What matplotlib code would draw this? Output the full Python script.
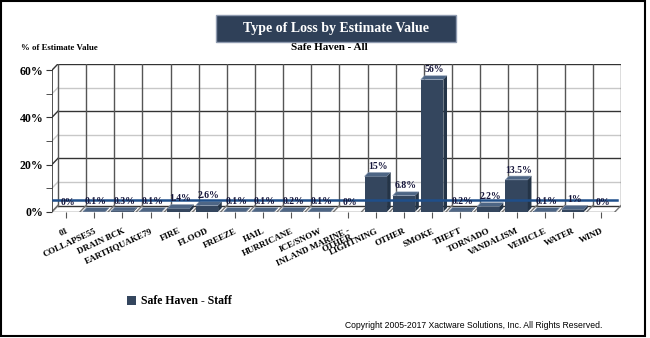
import numpy as np
import matplotlib
matplotlib.use("Agg")
import matplotlib.pyplot as plt
from matplotlib.patches import Polygon, Rectangle

categories = ["01", "COLLAPSE55", "DRAIN BCK", "EARTHQUAKE79", "FIRE", "FLOOD",
              "FREEZE", "HAIL", "HURRICANE", "ICE/SNOW", "INLAND MARINE -\nOTHER",
              "LIGHTNING", "OTHER", "SMOKE", "THEFT", "TORNADO", "VANDALISM",
              "VEHICLE", "WATER", "WIND"]
values = [0, 0.1, 0.3, 0.1, 1.4, 2.6, 0.1, 0.1, 0.2, 0.1, 0,
          15, 6.8, 56, 0.2, 2.2, 13.5, 0.1, 1, 0]
series_name = "Safe Haven - Staff"
y_ticks = [0, 20, 40, 60]

serif = "Liberation Serif"
front_col = "#34465e"
top_col = "#4d6584"
side_col = "#243447"

# 3d depth of the floor / back wall, in data units
dx, dy = 0.21, 2.6
bdx, bdy = 0.13, 1.6
bw = 0.8
n = len(categories)

fig = plt.figure(figsize=(6.5, 3.38), dpi=100)
ax = fig.add_axes([52 / 650, 126.3 / 338, 569 / 650, 147.7 / 338])
ax.set_xlim(-0.5, n - 0.5 + dx)
ax.set_ylim(0, 60 + dy)
for s in ax.spines.values():
    s.set_visible(False)

# back wall grid
for v in [10, 30, 50]:
    ax.plot([-0.5 + dx, n - 0.5 + dx], [v + dy, v + dy], color="#c8c8c8", lw=1, zorder=1)
    ax.plot([-0.5, -0.5 + dx], [v, v + dy], color="#c8c8c8", lw=1, zorder=1)
for v in y_ticks:
    ax.plot([-0.5 + dx, n - 0.5 + dx], [v + dy, v + dy], color="#333333", lw=1, zorder=1)
    ax.plot([-0.5, -0.5 + dx], [v, v + dy], color="#333333", lw=1, zorder=1)
for k in range(n + 1):
    xb = k - 0.5 + dx
    ax.plot([xb, xb], [dy, 60 + dy], color="#555555", lw=1, zorder=1)
    ax.plot([k - 0.5, xb], [0, dy], color="#777777", lw=1, zorder=1)
ax.plot([-0.5, -0.5], [0, 60], color="#333333", lw=1.2, zorder=2)
ax.plot([-0.5, n - 0.5], [0, 0], color="#555555", lw=1, zorder=2)

# bars with a fake 3d look
for i, v in enumerate(values):
    if v <= 0:
        continue
    x0, x1 = i - bw / 2, i + bw / 2
    ax.add_patch(Rectangle((x0, 0), bw, v, facecolor=front_col, edgecolor="none", zorder=3))
    ax.add_patch(Polygon([(x0, v), (x1, v), (x1 + bdx, v + bdy), (x0 + bdx, v + bdy)],
                         closed=True, facecolor=top_col, edgecolor="#8a9ab0", lw=0.4, zorder=3))
    ax.add_patch(Polygon([(x1, 0), (x1 + bdx, bdy), (x1 + bdx, v + bdy), (x1, v)],
                         closed=True, facecolor=side_col, edgecolor="none", zorder=3))

# average line
avg = np.mean(values)
ax.plot([-0.5 + 0.05, n - 0.5 + dx * 0.3], [avg, avg], color="#1f4f8a", lw=1.8, zorder=5)

for i, v in enumerate(values):
    ax.annotate(f"{v:g}%", (i + bdx / 2, v + bdy), xytext=(0, 1), textcoords="offset points",
                ha="center", va="bottom", fontsize=7, fontweight="bold",
                family=serif, color="#15153a", zorder=6)

ax.set_yticks(y_ticks)
ax.set_yticklabels([f"{t}%" for t in y_ticks], fontsize=8.5, fontweight="bold", family=serif)
ax.set_yticks([10, 30, 50], minor=True)
ax.tick_params(axis="y", which="both", length=4, color="#333333", pad=2)
ax.set_xticks(range(n))
ax.set_xticklabels(categories, rotation=25, ha="right", rotation_mode="anchor",
                   fontsize=6.5, fontweight="bold", family=serif, linespacing=0.8)
ax.tick_params(axis="x", length=4, color="#555555", pad=7)

# title box
fig.patches.append(Rectangle((216 / 650, 1 - 42 / 338), 240 / 650, 27 / 338,
                             transform=fig.transFigure, facecolor="#2f4058",
                             edgecolor="#8f9bb0", lw=1))
fig.text(336 / 650, 1 - 28.5 / 338, "Type of Loss by Estimate Value", color="white",
         ha="center", va="center", fontsize=10, fontweight="bold", family=serif)
fig.text(21 / 650, 1 - 48 / 338, "% of Estimate Value", ha="left", va="center",
         fontsize=6.3, fontweight="bold", family=serif)
fig.text(329 / 650, 1 - 47 / 338, "Safe Haven - All", ha="center", va="center",
         fontsize=8, fontweight="bold", family=serif)

# legend
fig.patches.append(Rectangle((127 / 650, 1 - 305 / 338), 9 / 650, 9 / 338,
                             transform=fig.transFigure, facecolor=front_col, edgecolor="none"))
fig.text(141 / 650, 1 - 300.5 / 338, series_name, ha="left", va="center",
         fontsize=8.5, fontweight="bold", family=serif)

fig.text(602 / 650, 1 - 325 / 338, "Copyright 2005-2017 Xactware Solutions, Inc. All Rights Reserved.",
         ha="right", va="center", fontsize=6.2, family="Liberation Sans")

# outer frame
fig.patches.append(Rectangle((1 / 650, 2 / 338), 644 / 650, 335 / 338,
                             transform=fig.transFigure, facecolor="none",
                             edgecolor="black", lw=1.5))

fig.savefig("out.png", dpi=100)
